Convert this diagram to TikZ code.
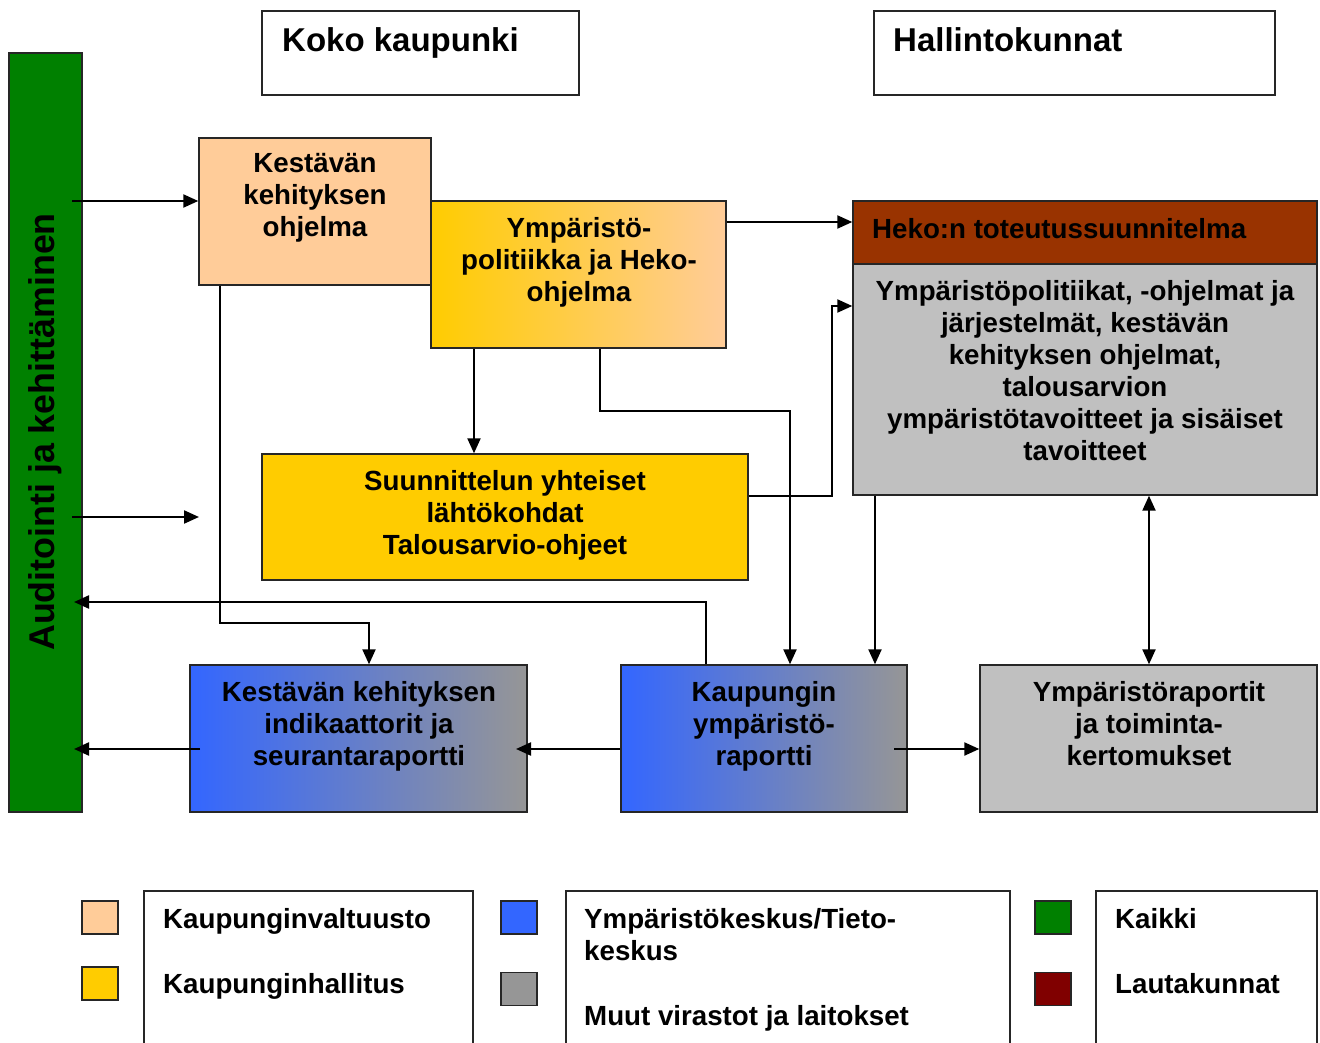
\documentclass[tikz,border=0pt]{standalone}
\usepackage{fontspec}
\setmainfont{Liberation Sans}
\usetikzlibrary{arrows.meta}
\definecolor{peach}{HTML}{FFCC99}
\definecolor{gold}{HTML}{FFCC00}
\definecolor{blueA}{HTML}{3366FF}
\definecolor{greyL}{HTML}{C0C0C0}
\definecolor{greyD}{HTML}{969696}
\definecolor{greenA}{HTML}{008000}
\definecolor{brownA}{HTML}{993300}
\definecolor{redD}{HTML}{800000}
\begin{document}
\begin{tikzpicture}[x=1pt,y=-1pt,
  box/.style={draw=black!85, line width=1.4pt, inner sep=0pt},
  sq/.style={draw=black!85, line width=1.4pt, inner sep=0pt, minimum width=36pt, minimum height=33pt},
  frame/.style={draw=black!85, line width=1.4pt},
  txt/.style={font=\fontsize{27.7}{32}\selectfont\bfseries, align=center, inner sep=0pt, anchor=north},
  ltxt/.style={font=\fontsize{27.7}{32}\selectfont\bfseries, align=left, inner sep=0pt},
  htxt/.style={font=\fontsize{33}{38}\selectfont\bfseries, inner sep=0pt, anchor=base west},
  arr/.style={-{Triangle[length=15pt,width=13pt]}, line width=2.2pt},
  darr/.style={{Triangle[length=15pt,width=13pt]}-{Triangle[length=15pt,width=13pt]}, line width=2.2pt}]
\useasboundingbox[fill=white] (0,0) rectangle (1320,1043);

% header boxes
\node[box, minimum width=317pt, minimum height=84pt] (koko) at (420.5,53) {};
\node[htxt] (kokot) at (282,52) {Koko kaupunki};
\node[box, minimum width=401pt, minimum height=84pt] (hall) at (1074.5,53) {};
\node[htxt] (hallt) at (893,52) {Hallintokunnat};

% green bar
\node[box, fill=greenA, minimum width=73pt, minimum height=759pt] (bar) at (45.5,432.5) {};
\node[font=\fontsize{35.8}{40}\selectfont\bfseries, rotate=90, inner sep=0pt, anchor=base] (bart) at (54,432) {Auditointi ja kehittäminen};

% main boxes
\node[box, fill=peach, minimum width=232pt, minimum height=147pt] (kko) at (315,211.5) {};
\node[txt] (kkot) at (315,153) {Kestävän\\kehityksen\\ohjelma};

\node[box, left color=gold, right color=peach, minimum width=295pt, minimum height=147pt] (ymp) at (578.5,274.5) {};
\node[txt] (ympt) at (579,217) {Ympäristö-\\politiikka ja Heko-\\ohjelma};

\node[box, fill=brownA, minimum width=464pt, minimum height=63pt] (heko) at (1085,232.5) {};
\node[ltxt, anchor=base west] (hekot) at (872,239) {Heko:n toteutussuunnitelma};

\node[box, fill=greyL, minimum width=464pt, minimum height=231pt] (ohj) at (1085,379.5) {};
\node[txt] (ohjt) at (1085,280) {Ympäristöpolitiikat, -ohjelmat ja\\järjestelmät, kestävän\\kehityksen ohjelmat,\\talousarvion\\ympäristötavoitteet ja sisäiset\\tavoitteet};

\node[box, fill=gold, minimum width=486pt, minimum height=126pt] (suun) at (505,517) {};
\node[txt] (suunt) at (505,470) {Suunnittelun yhteiset\\lähtökohdat\\Talousarvio-ohjeet};

\node[box, left color=blueA, right color=greyD, minimum width=337pt, minimum height=147pt] (ind) at (358.5,738.5) {};
\node[txt] (indt) at (359,681) {Kestävän kehityksen\\indikaattorit ja\\seurantaraportti};

\node[box, left color=blueA, right color=greyD, minimum width=286pt, minimum height=147pt] (kau) at (764,738.5) {};
\node[txt] (kaut) at (764,681) {Kaupungin\\ympäristö-\\raportti};

\node[box, fill=greyL, minimum width=337pt, minimum height=147pt] (yra) at (1148.5,738.5) {};
\node[txt] (yrat) at (1149,681) {Ympäristöraportit\\ja toiminta-\\kertomukset};

% helper coordinates
\coordinate (a1) at (72,201);
\coordinate (a2) at (72,517);
\coordinate (a2e) at (199,517);
\coordinate (h222) at (0,222);
\coordinate (x474) at (474,0);
\coordinate (c5a) at (600,411);
\coordinate (c5b) at (790,411);
\coordinate (c6a) at (832,496);
\coordinate (c6b) at (832,306);
\coordinate (c7a) at (220,623);
\coordinate (c7b) at (369,623);
\coordinate (c8a) at (706,602);
\coordinate (c8b) at (74,602);
\coordinate (x875) at (875,0);
\coordinate (x1149) at (1149,0);
\coordinate (c11e) at (516,749);
\coordinate (c12s) at (894,749);
\coordinate (c13s) at (200,749);
\coordinate (c13e) at (74,749);

% connectors
\draw[arr] (a1) -- (a1 -| kko.west);
\draw[arr] (a2) -- (a2e);
\draw[arr] (ymp.east |- h222) -- (heko.west |- h222);
\draw[arr] (ymp.south -| x474) -- (suun.north -| x474);
\draw[arr] (ymp.south -| c5a) -- (c5a) -- (c5b) -- (kau.north -| c5b);
\draw[arr] (suun.east |- c6a) -- (c6a) -- (c6b) -- (ohj.west |- c6b);
\draw[arr] (kko.south -| c7a) -- (c7a) -- (c7b) -- (ind.north -| c7b);
\draw[arr] (kau.north -| c8a) -- (c8a) -- (c8b);
\draw[arr] (ohj.south -| x875) -- (kau.north -| x875);
\draw[darr] (ohj.south -| x1149) -- (yra.north -| x1149);
\draw[arr] (kau.west |- c11e) -- (c11e);
\draw[arr] (c12s) -- (yra.west |- c12s);
\draw[arr] (c13s) -- (c13e);

% legend
\node[sq, fill=peach] (lg1) at (100,917.5) {};
\node[sq, fill=gold] (lg2) at (100,983.5) {};
\draw[frame] (144,1046) -- (144,891) -- (473,891) -- (473,1046);
\node[ltxt, anchor=base west] (lt1) at (163,928) {Kaupunginvaltuusto};
\node[ltxt, anchor=base west] (lt2) at (163,993) {Kaupunginhallitus};

\node[sq, fill=blueA] (lg3) at (519,917.5) {};
\node[sq, fill=greyD] (lg4) at (519,989) {};
\draw[frame] (566,1046) -- (566,891) -- (1010,891) -- (1010,1046);
\node[ltxt, anchor=north west] (lt3) at (584,908) {Ympäristökeskus/Tieto-\\keskus};
\node[ltxt, anchor=base west] (lt4) at (584,1025) {Muut virastot ja laitokset};

\node[sq, fill=greenA] (lg5) at (1053,917.5) {};
\node[sq, fill=redD] (lg6) at (1053,989) {};
\draw[frame] (1096,1046) -- (1096,891) -- (1317,891) -- (1317,1046);
\node[ltxt, anchor=base west] (lt5) at (1115,928) {Kaikki};
\node[ltxt, anchor=base west] (lt6) at (1115,993) {Lautakunnat};
\end{tikzpicture}
\end{document}
